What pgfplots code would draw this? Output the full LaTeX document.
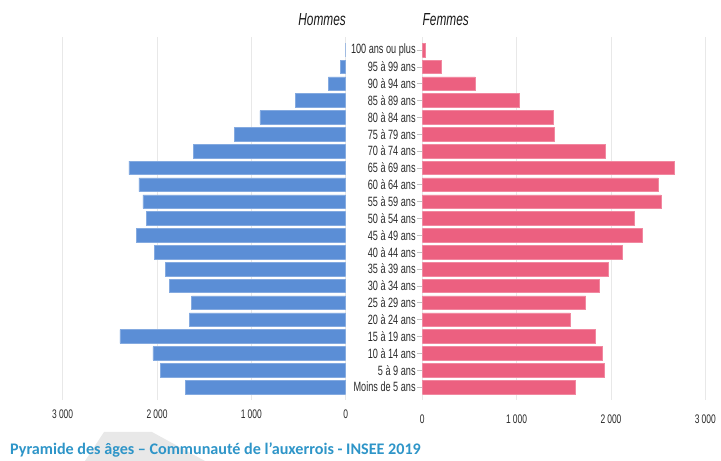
\documentclass[border=0pt]{standalone}
\usepackage{pgfplots}
\pgfplotsset{compat=1.18}
\usepackage{pgfplotstable}
\usepackage{fontspec}
\setmainfont{Liberation Sans}
\newfontfamily\narrowfont{Liberation Sans}[FakeStretch=0.68]
\newfontfamily\captionfont{Carlito}
\definecolor{menblue}{HTML}{5B8ED6}
\definecolor{womenpink}{HTML}{EC6080}
\definecolor{capblue}{HTML}{2E95C8}
\definecolor{gridgray}{HTML}{E8E8E8}
\definecolor{txt}{HTML}{2A2A2A}

\pgfplotstableread{
idx men women
0 1697 1621
1 1966 1932
2 2043 1907
3 2393 1837
4 1658 1565
5 1633 1731
6 1871 1879
7 1913 1967
8 2030 2115
9 2220 2334
10 2114 2246
11 2150 2532
12 2192 2500
13 2298 2673
14 1616 1939
15 1181 1402
16 909 1392
17 534 1028
18 184 561
19 60 205
20 0 35
}\pyr

\pgfplotsset{
  pyr/.style={
    scale only axis, width=283bp, height=363bp,
    xmin=0, xmax=3000, ymin=-0.77, ymax=20.77,
    xtick={0,1000,2000,3000},
    xmajorgrids, grid style={gridgray, line width=0.8bp},
    axis line style={draw=none},
    xtick style={draw=none},
    xbar, bar width=13.6bp,
    /pgf/number format/.cd, 1000 sep={\,}, assume math mode=true,
    /pgfplots/.cd,
    xticklabel style={font=\narrowfont\fontsize{12.5}{14}\selectfont, text=txt, yshift=-6bp},
  }
}

\begin{document}
\begin{tikzpicture}
\path[use as bounding box] (0bp,0bp) rectangle (721bp,461bp);
% decorative chevron behind caption
\fill[gray!18] (85bp,0bp) -- (104bp,29bp) -- (152bp,29bp) -- (205bp,0bp) -- cycle;

\begin{axis}[pyr, at={(62.7bp,61bp)}, anchor=south west,
  x dir=reverse, ytick=\empty]
\addplot[fill=menblue, draw=menblue!75!white, line width=0.5bp] table[x=men, y=idx] {\pyr};
\end{axis}

\begin{axis}[pyr, at={(422.3bp,61bp)}, anchor=south west,
  ytick={0,...,20}, ytick pos=left,
  yticklabels={Moins de 5 ans,5 à 9 ans,10 à 14 ans,15 à 19 ans,20 à 24 ans,25 à 29 ans,30 à 34 ans,35 à 39 ans,40 à 44 ans,45 à 49 ans,50 à 54 ans,55 à 59 ans,60 à 64 ans,65 à 69 ans,70 à 74 ans,75 à 79 ans,80 à 84 ans,85 à 89 ans,90 à 94 ans,95 à 99 ans,100 ans ou plus},
  ytick style={draw=gray!50, line width=0.6bp},
  tick align=outside, major tick length=5bp,
  yticklabel style={font=\narrowfont\fontsize{13.5}{15}\selectfont, text=txt, inner sep=1.5bp}]
\addplot[fill=womenpink, draw=womenpink!75!white, line width=0.5bp] table[x=women, y=idx] {\pyr};
\end{axis}

\node[anchor=base east, inner sep=0, font=\narrowfont\itshape\fontsize{17.5}{19}\selectfont, text=black!90] at (346bp,435bp) {Hommes};
\node[anchor=base west, inner sep=0, font=\narrowfont\itshape\fontsize{17.5}{19}\selectfont, text=black!90] at (422.5bp,435bp) {Femmes};
\node[anchor=base west, inner sep=0, font=\captionfont\bfseries\fontsize{16.2}{18}\selectfont, text=capblue] at (10bp,7bp) {Pyramide des âges – Communauté de l’auxerrois - INSEE 2019};
\end{tikzpicture}
\end{document}
